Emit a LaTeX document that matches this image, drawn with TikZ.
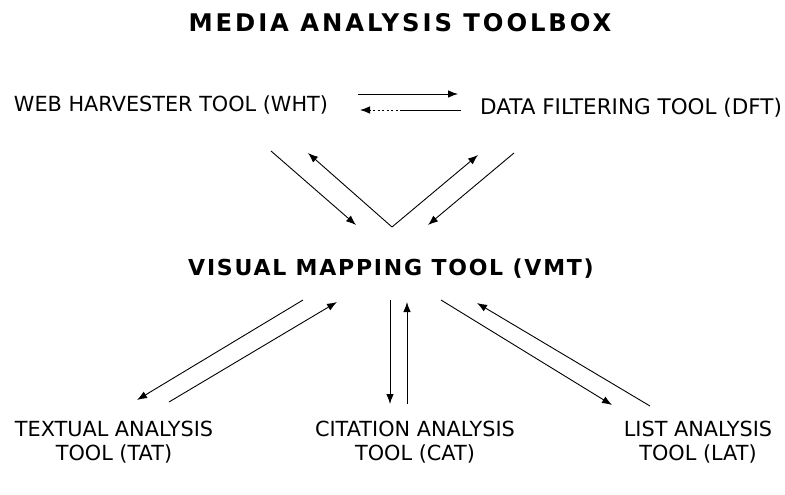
\documentclass[tikz,border=0pt]{standalone}
\usepackage{fontspec}
\setmainfont{DejaVu Sans}
\newfontfamily\titlefont[LetterSpace=12]{DejaVu Sans Bold}
\newfontfamily\vmtfont[LetterSpace=8]{DejaVu Sans Bold}
\usetikzlibrary{arrows.meta}
\begin{document}
\begin{tikzpicture}[x=1pt,y=-1pt,
  lbl/.style={inner sep=0pt,font=\fontsize{20.8}{24}\selectfont},
  conn/.style={line width=0.9pt,-{Latex[length=10pt,width=7.5pt]}}]
\useasboundingbox (0,0) rectangle (785,495);
\node[inner sep=0pt,font=\titlefont\fontsize{24.3}{28}\selectfont] (title) at (400,23) {MEDIA ANALYSIS TOOLBOX};
\node[lbl] (wht) at (171,105) {WEB HARVESTER TOOL (WHT)};
\node[lbl,font=\fontsize{21.5}{24}\selectfont] (dft) at (631,108) {DATA FILTERING TOOL (DFT)};
\node[inner sep=0pt,font=\vmtfont\fontsize{22}{26}\selectfont] (vmt) at (391,269) {VISUAL MAPPING TOOL (VMT)};
\node[lbl,align=center] (tat) at (114,442) {TEXTUAL ANALYSIS\\[0pt]TOOL (TAT)};
\node[lbl,align=center] (cat) at (415,442) {CITATION ANALYSIS\\[0pt]TOOL (CAT)};
\node[lbl,align=center] (lat) at (698,442) {LIST ANALYSIS\\[0pt]TOOL (LAT)};
% top pair
\coordinate (a1) at (358,94); \coordinate (a2) at (458,94);
\coordinate (b1) at (461,110); \coordinate (bm) at (402,110); \coordinate (b2) at (360,110);
\draw[conn] (a1) -- (a2);
\draw[line width=0.9pt] (b1) -- (bm);
\draw[conn,dash pattern=on 2pt off 2.5pt] (bm) -- (b2);
% V
\coordinate (v1s) at (271,151); \coordinate (v1e) at (356,225);
\coordinate (apex) at (392,227); \coordinate (v2e) at (308,153);
\coordinate (v3e) at (478,155);
\coordinate (v4s) at (514,153); \coordinate (v4e) at (428,225);
\draw[conn] (v1s) -- (v1e);
\draw[conn] (apex) -- (v2e);
\draw[conn] (apex) -- (v3e);
\draw[conn] (v4s) -- (v4e);
% lower
\coordinate (l1s) at (303,300); \coordinate (l1e) at (137,400);
\coordinate (l2s) at (169,402); \coordinate (l2e) at (337,302);
\coordinate (m1s) at (390,300); \coordinate (m1e) at (390,404);
\coordinate (m2s) at (407,404); \coordinate (m2e) at (407,302);
\coordinate (r1s) at (441,300); \coordinate (r1e) at (612,405);
\coordinate (r2s) at (650,406); \coordinate (r2e) at (477,303);
\draw[conn] (l1s) -- (l1e);
\draw[conn] (l2s) -- (l2e);
\draw[conn] (m1s) -- (m1e);
\draw[conn] (m2s) -- (m2e);
\draw[conn] (r1s) -- (r1e);
\draw[conn] (r2s) -- (r2e);
\end{tikzpicture}
\end{document}
